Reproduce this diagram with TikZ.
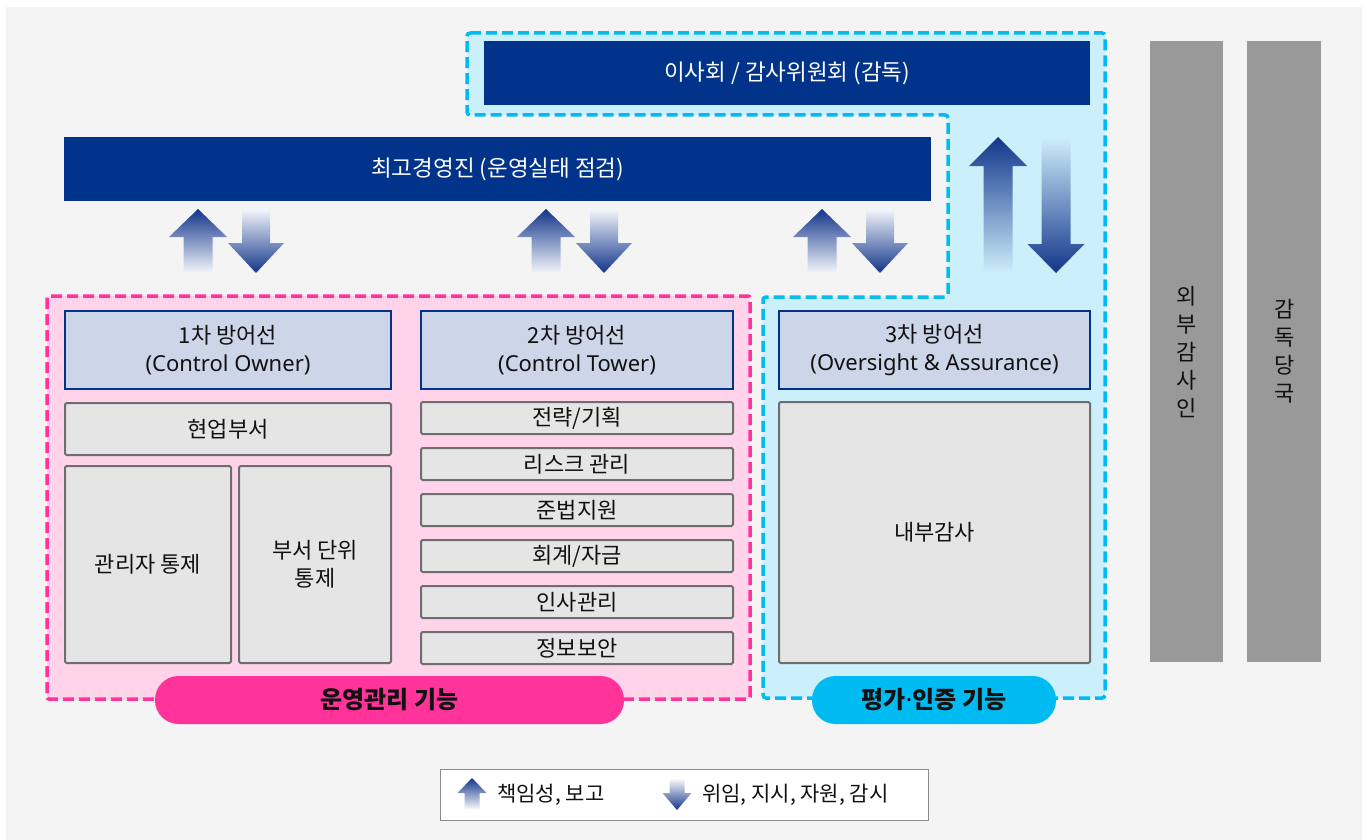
\documentclass[tikz,border=0pt]{standalone}
\usepackage{fontspec}
\setmainfont{Noto Sans CJK KR}
\newfontfamily\lat{Noto Sans}
\definecolor{bg}{HTML}{F4F4F4}
\definecolor{navy}{HTML}{003389}
\definecolor{hdrfill}{HTML}{CDD6E8}
\definecolor{grayfill}{HTML}{E5E5E5}
\definecolor{grayline}{HTML}{6E6E6E}
\definecolor{pinkfill}{HTML}{FFD4EA}
\definecolor{pinkline}{HTML}{FF3399}
\definecolor{cyanfill}{HTML}{CCEFFC}
\definecolor{cyanline}{HTML}{00BBF2}
\definecolor{barfill}{HTML}{999999}
\definecolor{arrdark}{HTML}{12358A}
\definecolor{arrlight}{HTML}{F0F3F9}
\definecolor{arrlightc}{HTML}{CDEDFA}
\definecolor{legline}{HTML}{8A8A8A}
\definecolor{txt}{HTML}{111111}
% up arrow: cx, tip y, head base y, bottom y, head half width, shaft half width, light colour
\newcommand\myUp[7]{\shade[top color=arrdark, bottom color=#7] (#1,#2) -- (#1+#5,#3) -- (#1+#6,#3) -- (#1+#6,#4) -- (#1-#6,#4) -- (#1-#6,#3) -- (#1-#5,#3) -- cycle;}
% down arrow: cx, top y, head top y, tip y, head half width, shaft half width, light colour
\newcommand\myDn[7]{\shade[top color=#7, bottom color=arrdark] (#1-#6,#2) -- (#1+#6,#2) -- (#1+#6,#3) -- (#1+#5,#3) -- (#1,#4) -- (#1-#5,#3) -- (#1-#6,#3) -- cycle;}
\tikzset{
  banner/.style={rectangle, fill=navy, text=white, inner sep=0pt, anchor=north west, font=\fontsize{22.5}{26}\selectfont},
  hdr/.style={rectangle, fill=hdrfill, draw=navy, line width=2pt, inner sep=0pt, anchor=north west, align=center, text=txt, font=\fontsize{22}{28}\selectfont},
  gbox/.style={rectangle, fill=grayfill, draw=grayline, line width=2pt, rounded corners=1.5pt, inner sep=0pt, anchor=north west, align=center, text=txt, font=\fontsize{22}{28}\selectfont},
  pill/.style={rectangle, rounded corners=23.5pt, inner sep=0pt, text=txt, font=\fontsize{24}{28}\selectfont\bfseries},
  vbar/.style={rectangle, fill=barfill, inner sep=0pt, anchor=north west},
  vtext/.style={align=center, text=txt, font=\fontsize{22}{28}\selectfont},
  legtext/.style={anchor=west, text=txt, inner sep=0pt, font=\fontsize{21}{24}\selectfont},
}
\begin{document}
\begin{tikzpicture}[x=1pt, y=-1pt]
\useasboundingbox (0,0) rectangle (1370,840);
\fill[white] (0,0) rectangle (1370,840);
\fill[bg] (6,7) rectangle (1362,840);
% assurance region (cyan)
\draw[fill=cyanfill, draw=cyanline, line width=3.5pt, dash pattern=on 11pt off 5pt, rounded corners=3pt]
  (467,33) -- (1105,33) -- (1105,698) -- (763,698) -- (763,297) -- (948,297) -- (948,115) -- (467,115) -- cycle;
% operation region (pink)
\draw[fill=pinkfill, draw=pinkline, line width=3.5pt, dash pattern=on 11pt off 5pt, rounded corners=2pt]
  (47,296) rectangle (750,699);
% banners
\node[banner, minimum width=606pt, minimum height=64pt] (board) at (484,41) {이사회 / 감사위원회 (감독)};
\node[banner, minimum width=867pt, minimum height=64pt] (ceo) at (64,137) {최고경영진 (운영실태 점검)};
% arrows
\myUp{198}{209}{237}{272}{29}{14.5}{arrlight}
\myDn{256}{210}{243}{273}{28}{14}{arrlight}
\myUp{546}{209}{237}{272}{29}{14.5}{arrlight}
\myDn{604}{210}{243}{273}{28}{14}{arrlight}
\myUp{822}{209}{237}{272}{29}{14.5}{arrlight}
\myDn{880}{210}{243}{273}{28}{14}{arrlight}
\myUp{998}{137}{166}{272}{29}{14.5}{arrlightc}
\myDn{1056}{138}{244}{273}{28.5}{14.5}{arrlightc}
% headers
\node[hdr, minimum width=326pt, minimum height=78pt] (l1) at (64,310) {1차 방어선\\{\lat (Control Owner)}};
\node[hdr, minimum width=312pt, minimum height=78pt] (l2) at (420,310) {2차 방어선\\{\lat (Control Tower)}};
\node[hdr, minimum width=311pt, minimum height=78pt] (l3) at (778,310) {3차 방어선\\{\lat (Oversight \& Assurance)}};
% first line boxes
\node[gbox, minimum width=326pt, minimum height=52pt] (biz) at (64,402) {현업부서};
\node[gbox, minimum width=166pt, minimum height=197pt] (mgr) at (64,465) {관리자 통제};
\node[gbox, minimum width=152pt, minimum height=197pt] (dept) at (238,465) {부서 단위\\통제};
% second line boxes
\node[gbox, minimum width=312pt, minimum height=32pt] (s1) at (420,401) {전략/기획};
\node[gbox, minimum width=312pt, minimum height=32pt] (s2) at (420,447) {리스크 관리};
\node[gbox, minimum width=312pt, minimum height=32pt] (s3) at (420,493) {준법지원};
\node[gbox, minimum width=312pt, minimum height=32pt] (s4) at (420,539) {회계/자금};
\node[gbox, minimum width=312pt, minimum height=32pt] (s5) at (420,585) {인사관리};
\node[gbox, minimum width=312pt, minimum height=32pt] (s6) at (420,631) {정보보안};
% third line box
\node[gbox, minimum width=311pt, minimum height=261pt] (audit) at (778,401) {내부감사};
% pills
\node[pill, fill=pinkline, minimum width=469pt, minimum height=48pt] (opf) at (389.5,700) {운영관리 기능};
\node[pill, fill=cyanline, minimum width=244pt, minimum height=48pt] (asf) at (934,700) {평가{\lat\bfseries ·}인증 기능};
% external bars
\node[vbar, minimum width=73pt, minimum height=621pt] (ext) at (1150,41) {};
\node[vbar, minimum width=74pt, minimum height=621pt] (reg) at (1247,41) {};
\node[vtext] (extt) at (ext.center) {외\\부\\감\\사\\인};
\node[vtext] (regt) at (reg.center) {감\\독\\당\\국};
% legend
\node[rectangle, fill=white, draw=legline, line width=1pt, inner sep=0pt, anchor=north west, minimum width=488pt, minimum height=51pt] (legend) at (440,769) {};
\myUp{472}{778}{793}{810}{14.5}{7.5}{white}
\myDn{677}{778}{793}{810}{14.5}{7.5}{white}
\node[legtext] (leg1) at (497,795) {책임성, 보고};
\node[legtext] (leg2) at (702,795) {위임, 지시, 자원, 감시};
\end{tikzpicture}
\end{document}
